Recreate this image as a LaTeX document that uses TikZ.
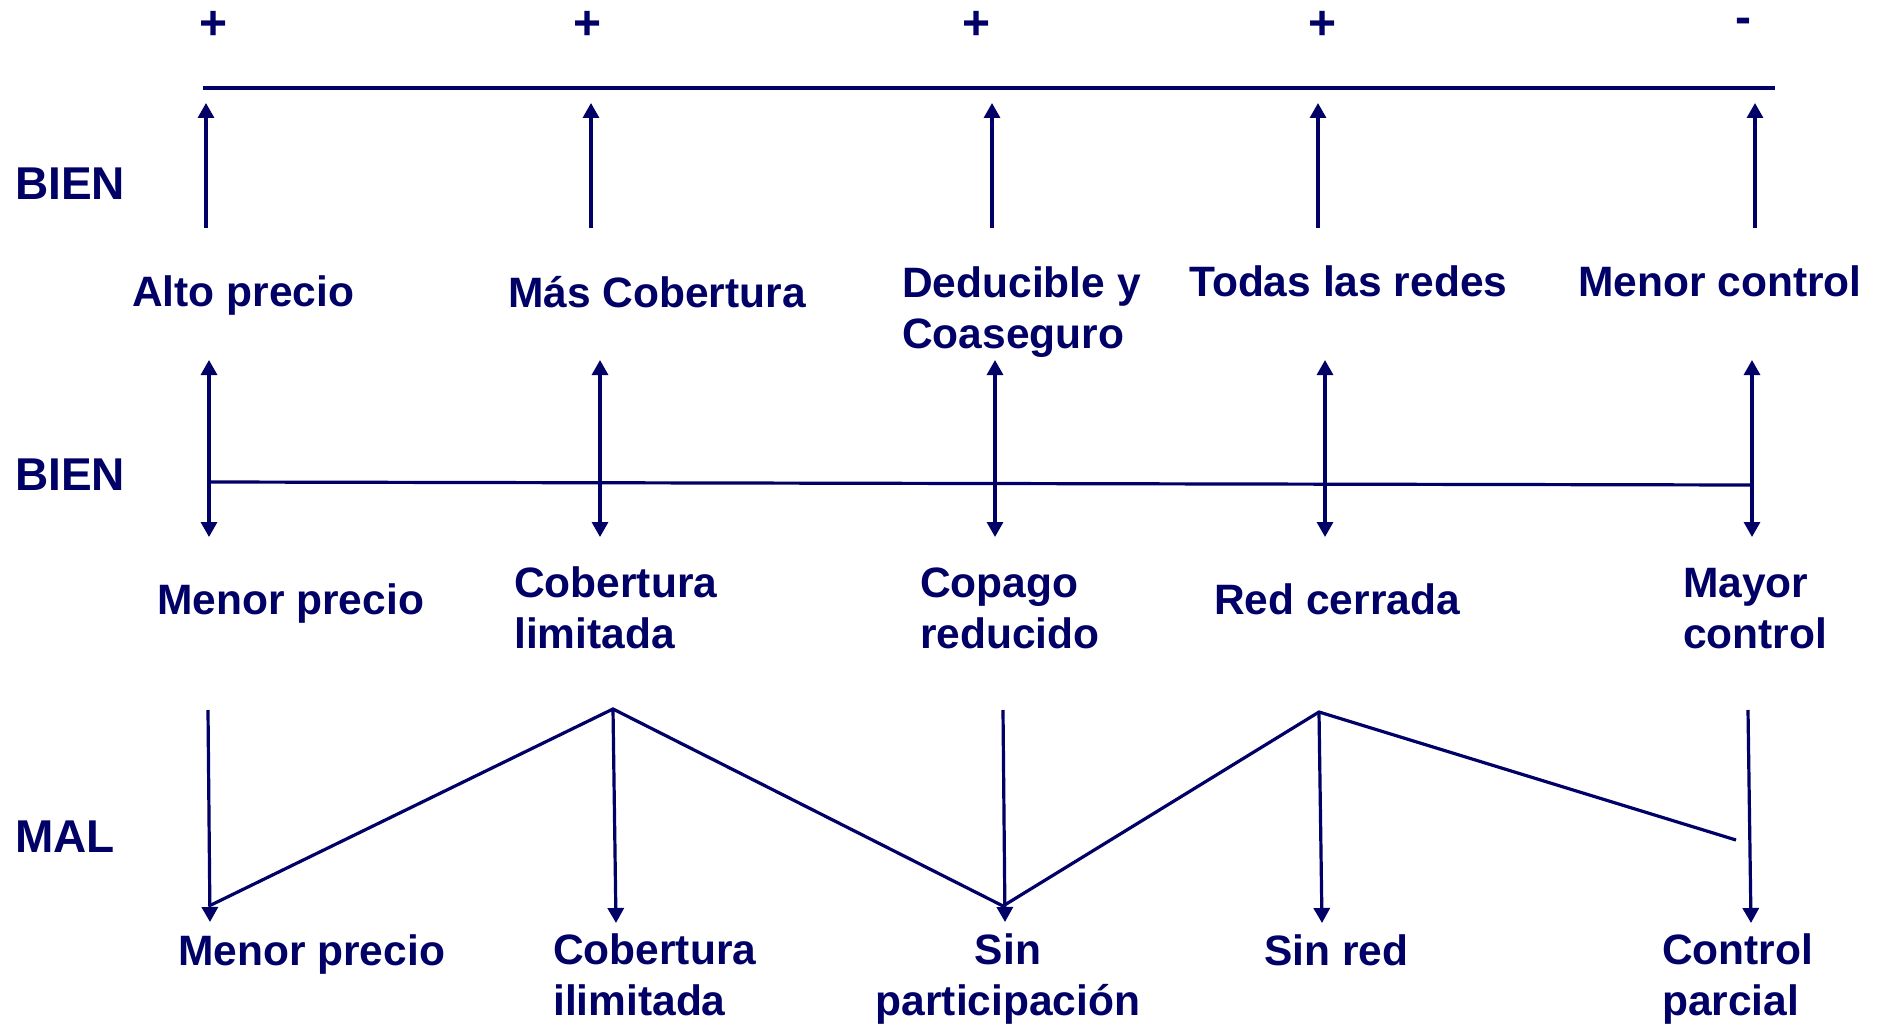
\documentclass[tikz,border=0pt]{standalone}
\usepackage{fontspec}
\setmainfont{Liberation Sans}
\usetikzlibrary{arrows.meta}
\definecolor{navy}{RGB}{0,0,102}

\begin{document}
\begin{tikzpicture}[x=1pt,y=-1pt]
        \tikzset{lbl/.style = {anchor=base west,inner sep=0pt,align=left,text=navy,font=\bfseries\fontsize{42.5}{51}\selectfont}}
        \tikzset{side/.style = {lbl,font=\bfseries\fontsize{46}{55}\selectfont}}
        \tikzset{sign/.style = {anchor=base,inner sep=0pt,text=navy,font=\bfseries\fontsize{48}{51}\selectfont}}
        \tikzset{edge/.style = {navy,line width=3.2pt}}
        \tikzset{arr/.style = {edge,-{Triangle[width=16pt,length=15pt]}}}
        \tikzset{dbl/.style = {edge,{Triangle[width=16pt,length=15pt]}-{Triangle[width=16pt,length=15pt]}}}
        \useasboundingbox (0,0) rectangle (1879,1024);
        % signs
        \node[sign] (s1) at (214,40) {+};
        \node[sign] (s2) at (588,40) {+};
        \node[sign] (s3) at (977,40) {+};
        \node[sign] (s4) at (1322,40) {+};
        \node[sign] (s5) at (1743,34) {-};
        % side labels
        \node[side] (bien1) at (15,200) {BIEN};
        \node[side] (bien2) at (15,490) {BIEN};
        \node[side] (mal) at (15,852) {MAL};
        % first row
        \node[lbl] (alto) at (132,306) {Alto precio};
        \node[lbl] (mas) at (508,308) {Más Cobertura};
        \node[lbl] (dedu) at (902,348) {Deducible y\\Coaseguro};
        \node[lbl] (todas) at (1189,297) {Todas las redes};
        \node[lbl] (menc) at (1578,297) {Menor control};
        % second row
        \node[lbl] (menp) at (157,614) {Menor precio};
        \node[lbl] (cobl) at (514,648) {Cobertura\\limitada};
        \node[lbl] (copa) at (920,648) {Copago\\reducido};
        \node[lbl] (redc) at (1214,614) {Red cerrada};
        \node[lbl] (mayc) at (1683,648) {Mayor\\control};
        % third row
        \node[lbl] (menp2) at (178,965) {Menor precio};
        \node[lbl] (cobi) at (553,1015) {Cobertura\\ilimitada};
        \node[lbl,anchor=base,align=center] (sinp) at (1008,1015) {Sin\\participación};
        \node[lbl] (sinr) at (1264,965) {Sin red};
        \node[lbl] (conp) at (1662,1015) {Control\\parcial};
        % top line and arrows
        \coordinate (ta) at (203,88);
        \coordinate (tb) at (1775,88);
        \draw[edge,line width=3.6pt] (ta) -- (tb);
        \coordinate (u1a) at (206,228);  \coordinate (u1b) at (206,103);
        \coordinate (u2a) at (591,228);  \coordinate (u2b) at (591,103);
        \coordinate (u3a) at (992,228);  \coordinate (u3b) at (992,103);
        \coordinate (u4a) at (1318,228); \coordinate (u4b) at (1318,103);
        \coordinate (u5a) at (1755,228); \coordinate (u5b) at (1755,103);
        \draw[arr] (u1a) -- (u1b);
        \draw[arr] (u2a) -- (u2b);
        \draw[arr] (u3a) -- (u3b);
        \draw[arr] (u4a) -- (u4b);
        \draw[arr] (u5a) -- (u5b);
        % middle line and double arrows
        \coordinate (ma) at (209,482);
        \coordinate (mb) at (1752,485);
        \draw[edge] (ma) -- (mb);
        \coordinate (d1a) at (209,360);  \coordinate (d1b) at (209,537);
        \coordinate (d2a) at (600,360);  \coordinate (d2b) at (600,537);
        \coordinate (d3a) at (995,360);  \coordinate (d3b) at (995,537);
        \coordinate (d4a) at (1325,360); \coordinate (d4b) at (1325,537);
        \coordinate (d5a) at (1752,360); \coordinate (d5b) at (1752,537);
        \draw[dbl] (d1a) -- (d1b);
        \draw[dbl] (d2a) -- (d2b);
        \draw[dbl] (d3a) -- (d3b);
        \draw[dbl] (d4a) -- (d4b);
        \draw[dbl] (d5a) -- (d5b);
        % zigzag
        \coordinate (z1a) at (208,710);  \coordinate (z1b) at (210,922);
        \coordinate (z2a) at (613,709);  \coordinate (z2b) at (616,923);
        \coordinate (z3a) at (1003,710); \coordinate (z3b) at (1005,922);
        \coordinate (z4a) at (1319,712); \coordinate (z4b) at (1322,923);
        \coordinate (z5a) at (1748,710); \coordinate (z5b) at (1751,923);
        \coordinate (zv1) at (211,905);
        \coordinate (zv2) at (1003,906);
        \coordinate (zend) at (1736,840);
        \draw[arr] (z1a) -- (z1b);
        \draw[arr] (z2a) -- (z2b);
        \draw[arr] (z3a) -- (z3b);
        \draw[arr] (z4a) -- (z4b);
        \draw[arr] (z5a) -- (z5b);
        \draw[edge] (zv1) -- (z2a) -- (zv2) -- (z4a) -- (zend);
\end{tikzpicture}
\end{document}
